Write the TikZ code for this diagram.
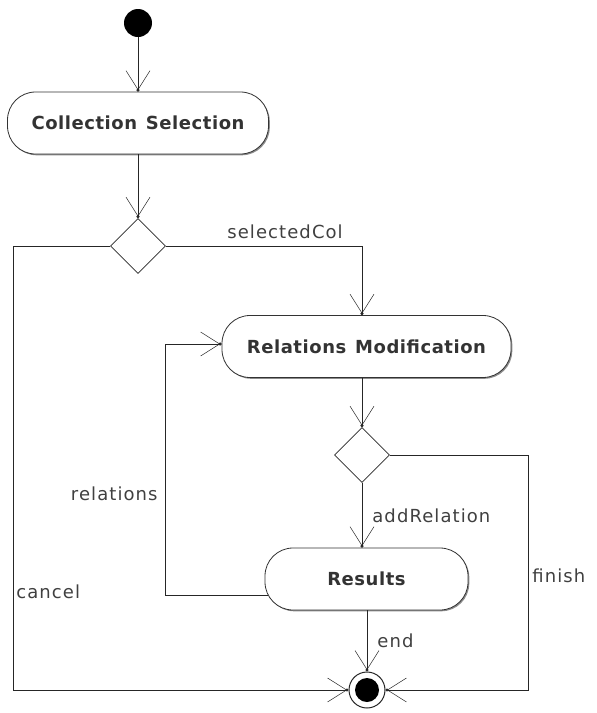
\documentclass[tikz,border=0pt]{standalone}
\usepackage{fontspec}
\setmainfont{DejaVu Sans}
\newfontfamily\lblfont[LetterSpace=6]{DejaVu Sans}
\newfontfamily\actfont[WordSpace=1.3,LetterSpace=3]{DejaVu Sans}
\usetikzlibrary{shapes.geometric,arrows.meta,shadows}
\begin{document}
\begin{tikzpicture}[x=1pt,y=-1pt,
  line width=0.8pt,
  act/.style={draw=black!80, fill=white, rounded corners=28pt, minimum height=62pt,
    inner sep=0pt, text=black!80, font=\actfont\fontsize{18}{20}\selectfont\bfseries,
    drop shadow={shadow xshift=1.3pt, shadow yshift=-1.3pt, fill=black!45, opacity=1}},
  dec/.style={diamond, draw=black!85, fill=white, minimum width=55pt, minimum height=55pt, inner sep=0pt},
  lbl/.style={text=black!75, font=\lblfont\fontsize{18}{20}\selectfont, inner sep=0pt},
  arr/.style={draw=black!85, -{Straight Barb[length=19pt,width=24pt,line width=0.5pt,sep=-1.5pt] Circle[length=3pt]}},
]
\useasboundingbox (0,0) rectangle (597,713);

\node[circle, fill=black, minimum size=28pt, inner sep=0pt] (start) at (138,23) {};
\node[act, minimum width=261pt] (cs) at (138,123) {Collection Selection};
\node[dec] (d1) at (138,246) {};
\node[act, minimum width=289pt] (rm) at (366.5,346.5) {Relations Modification};
\node[dec] (d2) at (362,455) {};
\node[act, minimum width=203pt] (res) at (366.5,579) {Results};
\node[circle, draw=black!85, line width=1pt, fill=white, minimum size=36pt, inner sep=0pt] (fin) at (367,690) {};
\fill[black] (fin.center) circle (12pt);

\coordinate (cl) at (13,690);
\coordinate (fr) at (528,690);
\coordinate (rl) at (165,595);
\coordinate (rs) at (268,595);

\draw[arr] (start) -- (cs);
\draw[arr] (cs) -- (d1);
\draw[arr] (d1.east) -| (rm.north -| d2.center);
\draw[arr] (d1.west) -| (cl) -- (fin.west);
\draw[arr] (rm.south -| d2.center) -- (d2.north);
\draw[arr] (d2.east) -| (fr) -- (fin.east);
\draw[arr] (d2.south) -- (res.north -| d2.center);
\draw[arr] (rs) -- (rl) |- (rm.west |- 0,344);
\draw[arr] (res.south -| fin.center) -- (fin.north);

\node[lbl, anchor=base west] (lsel) at (227,238) {selectedCol};
\node[lbl, anchor=base east] (lrel) at (158,500) {relations};
\node[lbl, anchor=base west] (ladd) at (372,522) {addRelation};
\node[lbl, anchor=base west] (lcan) at (16,598) {cancel};
\node[lbl, anchor=base west] (lfin) at (532,582) {finish};
\node[lbl, anchor=base west] (lend) at (377,647) {end};
\end{tikzpicture}
\end{document}
